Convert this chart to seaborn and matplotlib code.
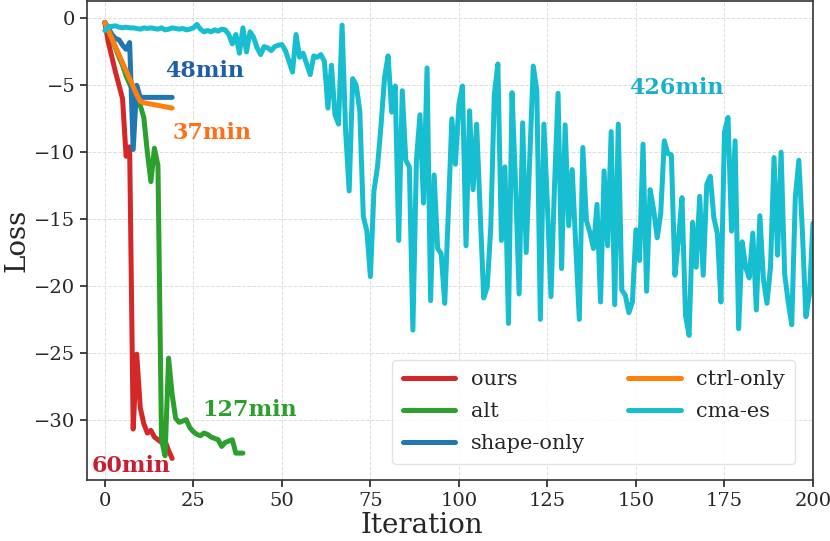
import numpy as np
import pandas as pd
import matplotlib
matplotlib.use("Agg")
import matplotlib.pyplot as plt
import seaborn as sns

# loss per iteration
ours = [-0.3, -1.8, -2.9, -4.0, -5.0, -6.0, -10.3, -9.6, -30.7, -25.1,
        -29.1, -30.3, -31.0, -30.8, -31.3, -31.5, -31.7, -31.6, -32.3, -32.9]

alt = [-0.3, -0.9, -1.6, -2.2, -2.9, -3.5, -4.3, -4.9, -5.4, -5.9,
       -6.5, -7.4, -10.0, -12.2, -9.7, -11.0, -31.5, -32.7, -25.4, -28.1,
       -29.9, -30.2, -30.1, -30.0, -30.6, -30.9, -31.1, -31.2, -31.0, -31.1,
       -31.3, -31.4, -31.5, -32.0, -31.7, -31.6, -31.5, -32.5, -32.5, -32.5]

shape_only = [-0.3, -0.7, -1.2, -1.5, -1.6, -2.0, -2.3, -1.8, -9.8, -5.0,
              -5.9, -5.9, -5.9, -5.9, -5.9, -5.9, -5.9, -5.9, -5.9, -5.9]

ctrl_only = [-0.3, -0.9, -1.5, -2.1, -2.7, -3.3, -3.9, -4.5, -5.1, -5.7,
             -6.2, -6.3, -6.35, -6.4, -6.45, -6.5, -6.55, -6.6, -6.65, -6.7]

cma_es = [-0.9, -0.6, -0.6, -0.55, -0.65, -0.7, -0.65, -0.7, -0.7, -0.75,
          -0.8, -0.7, -0.75, -0.7, -0.75, -0.8, -0.7, -0.85, -0.8, -0.7,
          -0.75, -0.8, -0.75, -0.85, -0.8, -0.7, -0.45, -0.8, -1.0, -0.9,
          -1.0, -0.85, -0.95, -0.8, -0.85, -1.2, -1.9, -1.2, -2.6, -0.7,
          -2.5, -1.0, -1.4, -2.2, -2.7, -2.1, -2.2, -2.4, -2.1, -2.0,
          -1.95, -2.4, -3.2, -4.0, -1.2, -2.9, -2.6, -3.4, -4.2, -2.8,
          -2.9, -2.7, -3.2, -6.7, -3.5, -7.2, -7.9, -0.5, -8.4, -12.9,
          -4.5, -5.0, -6.9, -14.8, -15.9, -19.3, -12.9, -11.1, -8.0, -4.4,
          -2.8, -7.0, -5.05, -16.6, -5.4, -10.6, -11.1, -23.3, -10.6, -7.2,
          -13.8, -3.7, -21.1, -11.7, -17.2, -17.6, -21.3, -14.6, -7.5, -10.9,
          -6.4, -5.05, -17.0, -6.9, -12.8, -7.9, -14.4, -20.9, -20.1, -15.6,
          -5.7, -3.4, -16.6, -11.1, -22.8, -5.55, -12.4, -20.6, -7.8, -17.5,
          -10.5, -3.56, -5.4, -22.5, -7.9, -14.0, -20.8, -12.5, -5.6, -18.7,
          -7.96, -15.5, -11.3, -17.0, -22.5, -9.65, -15.1, -16.0, -17.2, -13.9,
          -21.2, -11.4, -17.0, -8.46, -21.4, -7.9, -20.3, -20.7, -22.0, -21.2,
          -15.8, -18.1, -9.4, -20.4, -12.8, -14.3, -16.4, -14.6, -9.15, -10.1,
          -10.2, -19.2, -16.6, -13.4, -22.2, -23.7, -15.25, -18.6, -13.3, -19.2,
          -12.4, -11.8, -14.9, -16.1, -21.2, -8.5, -7.4, -15.9, -9.15, -23.2,
          -16.7, -18.6, -19.4, -16.05, -21.8, -14.75, -19.5, -21.3, -18.6, -10.4,
          -17.7, -10.0, -19.1, -21.2, -22.9, -13.4, -10.6, -15.9, -22.3, -20.6,
          -15.3]

series = [
    ("ours", ours, "#d62728"),
    ("alt", alt, "#2ca02c"),
    ("shape-only", shape_only, "#1f77b4"),
    ("ctrl-only", ctrl_only, "#ff7f0e"),
    ("cma-es", cma_es, "#17becf"),
]

# time labels: text, anchor (iteration, loss), colour
times = [
    ("60min", -3.6, -33.5, "#c81e32"),
    ("127min", 27.5, -29.3, "#2ca02c"),
    ("37min", 19.0, -8.6, "#ff6f1a"),
    ("48min", 17.0, -3.9, "#1f5fa5"),
    ("426min", 148.0, -5.2, "#1ab0c8"),
]

sns.set_theme(style="whitegrid")
plt.rcParams['font.family'] = ['DejaVu Serif']
plt.rcParams['mathtext.fontset'] = 'dejavuserif'

fig = plt.figure(figsize=(8.3, 5.41), dpi=100)
fig.patch.set_facecolor('white')
ax = fig.add_axes([0.105, 0.113, 0.8745, 0.885])

for name, vals, col in series:
    sns.lineplot(x=np.arange(len(vals)), y=vals, color=col, lw=3.6,
                 label=name, ax=ax)

for txt, x, y, col in times:
    ax.text(x, y, txt, color=col, fontsize=16, fontweight='bold',
            ha='left', va='center')

ax.set_xlim(-5, 200)
ax.set_ylim(-34.5, 1.3)
ax.set_xticks(range(0, 201, 25))
ax.set_yticks(range(-30, 1, 5))
ax.set_xlabel("Iteration", fontsize=20)
ax.set_ylabel("Loss", fontsize=20)
ax.xaxis.set_label_coords(0.461, -0.068)
ax.yaxis.set_label_coords(-0.078, 0.5)
ax.tick_params(axis='both', labelsize=14, length=5, width=1.2,
               color='#222222', direction='out', bottom=True, left=True)

ax.grid(True, ls='--', lw=0.7, color='#dddddd')
for s in ax.spines.values():
    s.set_visible(True)
    s.set_color('#333333')
    s.set_linewidth(1.2)

leg = ax.legend(loc='lower right', ncol=2, fontsize=15, frameon=True,
                bbox_to_anchor=(0.99, 0.012), handlelength=2.5,
                handletextpad=0.75, columnspacing=2.1, borderpad=0.5,
                labelspacing=0.62)
leg.get_frame().set_edgecolor('#dddddd')

plt.savefig("out.png", dpi=100)
plt.close()
